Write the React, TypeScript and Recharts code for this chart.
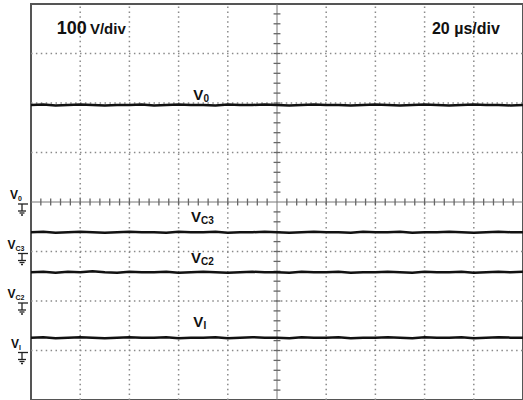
import {
  Line,
  LineChart,
  ReferenceArea,
  ReferenceDot,
  ReferenceLine,
  XAxis,
  YAxis,
} from "recharts"

// time base: 20 µs/div, 10 divisions
const timeUs = [
  0, 5, 10, 15, 20, 25, 30, 35, 40, 45, 50, 55, 60, 65, 70, 75, 80, 85, 90, 95,
  100, 105, 110, 115, 120, 125, 130, 135, 140, 145, 150, 155, 160, 165, 170, 175,
  180, 185, 190, 195, 200,
]

// trace levels in screen divisions (100 V/div)
const v0 = [
  1.96, 1.97, 1.95, 1.96, 1.97, 1.96, 1.95, 1.96, 1.96, 1.97, 1.95, 1.96, 1.97,
  1.96, 1.96, 1.95, 1.97, 1.96, 1.96, 1.97, 1.96, 1.95, 1.96, 1.97, 1.96, 1.96,
  1.95, 1.96, 1.97, 1.96, 1.95, 1.96, 1.97, 1.96, 1.95, 1.96, 1.97, 1.96, 1.96,
  1.95, 1.96,
]
const vc3 = [
  -0.61, -0.6, -0.62, -0.61, -0.6, -0.61, -0.62, -0.61, -0.6, -0.61, -0.61,
  -0.62, -0.6, -0.61, -0.61, -0.6, -0.62, -0.61, -0.61, -0.6, -0.61, -0.62,
  -0.61, -0.6, -0.61, -0.61, -0.62, -0.6, -0.61, -0.61, -0.6, -0.62, -0.61,
  -0.61, -0.6, -0.61, -0.62, -0.61, -0.6, -0.61, -0.61,
]
const vc2 = [
  -1.42, -1.41, -1.43, -1.41, -1.42, -1.4, -1.42, -1.43, -1.41, -1.42, -1.42,
  -1.41, -1.43, -1.42, -1.41, -1.42, -1.43, -1.42, -1.41, -1.42, -1.42, -1.43,
  -1.41, -1.42, -1.42, -1.41, -1.43, -1.42, -1.42, -1.41, -1.42, -1.43, -1.41,
  -1.42, -1.42, -1.41, -1.43, -1.42, -1.41, -1.42, -1.41,
]
const vi = [
  -2.74, -2.73, -2.75, -2.74, -2.73, -2.74, -2.75, -2.74, -2.73, -2.74, -2.74,
  -2.73, -2.75, -2.74, -2.74, -2.73, -2.75, -2.74, -2.73, -2.74, -2.74, -2.75,
  -2.73, -2.74, -2.74, -2.73, -2.75, -2.74, -2.74, -2.73, -2.74, -2.75, -2.73,
  -2.74, -2.74, -2.73, -2.75, -2.74, -2.73, -2.74, -2.74,
]

// channel ground markers (divisions) and their labels
const groundLevels = [0, -1, -2, -3]
const groundNames = ["0", "C3", "C2", "I"]

// trace labels: [time µs, level div, subscript]
const traceLabels: [number, number, string][] = [
  [66, 2.06, "0"],
  [65, -0.4, "C3"],
  [65, -1.23, "C2"],
  [66, -2.53, "I"],
]

const gridX = [20, 40, 60, 80, 120, 140, 160, 180]
const gridY = [-3, -2, -1, 1, 2, 3]
const minorX: number[] = []
for (let t = 4; t < 200; t += 4) if (t !== 100) minorX.push(t)
const minorY: number[] = []
for (let k = -19; k < 20; k++) if (k !== 0) minorY.push(k / 5)

const data = timeUs.map((t, i) => ({ t, v0: v0[i], vc3: vc3[i], vc2: vc2[i], vi: vi[i] }))

const font = "'Liberation Sans', Arial, sans-serif"
const dotted = { stroke: "#8a8a8a", strokeWidth: 1.5, strokeDasharray: "1.5 3.4" }

function GroundMark({ cx, cy, name }: { cx?: number; cy?: number; name: string }) {
  if (cx == null || cy == null) return null
  const x = cx
  const y = cy
  return (
    <g stroke="#222" strokeWidth={1.3} fill="none">
      <text
        x={x - 15}
        y={y - 3}
        fontFamily={font}
        fontWeight="bold"
        fontSize={12}
        fill="#111"
        stroke="none"
        textAnchor="middle"
      >
        V
        <tspan fontSize={7} dy={2}>
          {name}
        </tspan>
      </text>
      <line x1={x - 13} y1={y + 2} x2={x - 3} y2={y + 2} />
      <line x1={x - 9} y1={y + 2} x2={x - 9} y2={y + 9} />
      <line x1={x - 13} y1={y + 9} x2={x - 5} y2={y + 9} />
      <line x1={x - 11.5} y1={y + 11} x2={x - 6.5} y2={y + 11} />
      <line x1={x - 10} y1={y + 13} x2={x - 8} y2={y + 13} />
    </g>
  )
}

function TraceLabel({ cx, cy, sub }: { cx?: number; cy?: number; sub: string }) {
  if (cx == null || cy == null) return null
  return (
    <text x={cx} y={cy} fontFamily={font} fontWeight="bold" fontSize={15} fill="#111">
      V
      <tspan fontSize={10} dy={2}>
        {sub}
      </tspan>
    </text>
  )
}

export default function App() {
  return (
    <div style={{ position: "fixed", left: 0, top: 0, background: "#fff" }}>
      <LineChart
        width={523}
        height={401}
        data={data}
        margin={{ top: 4, right: 0, bottom: 1, left: 31 }}
      >
        <XAxis dataKey="t" type="number" domain={[0, 200]} hide />
        <YAxis type="number" domain={[-4, 4]} hide />
        {gridX.map((x) => (
          <ReferenceLine key={"gx" + x} x={x} {...dotted} />
        ))}
        {gridY.map((y) => (
          <ReferenceLine key={"gy" + y} y={y} {...dotted} />
        ))}
        <ReferenceLine x={100} stroke="#777" strokeWidth={1} />
        <ReferenceLine y={0} stroke="#777" strokeWidth={1} />
        {minorX.map((x) => (
          <ReferenceLine
            key={"mx" + x}
            segment={[
              { x, y: -0.07 },
              { x, y: 0.07 },
            ]}
            stroke="#666"
            strokeWidth={1.3}
          />
        ))}
        {minorY.map((y) => (
          <ReferenceLine
            key={"my" + y}
            segment={[
              { x: 98.6, y },
              { x: 101.4, y },
            ]}
            stroke="#666"
            strokeWidth={1.3}
          />
        ))}
        <ReferenceArea
          x1={0}
          x2={200}
          y1={-4}
          y2={4}
          fill="none"
          stroke="#555"
          strokeWidth={2}
          ifOverflow="visible"
        />
        <Line dataKey="v0" stroke="#111" strokeWidth={2.5} dot={false} isAnimationActive={false} />
        <Line dataKey="vc3" stroke="#111" strokeWidth={2.5} dot={false} isAnimationActive={false} />
        <Line dataKey="vc2" stroke="#111" strokeWidth={2.5} dot={false} isAnimationActive={false} />
        <Line dataKey="vi" stroke="#111" strokeWidth={2.5} dot={false} isAnimationActive={false} />
        {groundLevels.map((g, i) => (
          <ReferenceDot
            key={"gnd" + i}
            x={0}
            y={g}
            r={0}
            ifOverflow="visible"
            shape={(p: any) => <GroundMark cx={p.cx} cy={p.cy} name={groundNames[i]} />}
          />
        ))}
        {traceLabels.map(([t, y, s]) => (
          <ReferenceDot
            key={"tl" + s}
            x={t}
            y={y}
            r={0}
            ifOverflow="visible"
            shape={(p: any) => <TraceLabel cx={p.cx} cy={p.cy} sub={s} />}
          />
        ))}
        <ReferenceDot
          x={10.5}
          y={3.4}
          r={0}
          ifOverflow="visible"
          shape={(p: any) => (
            <text x={p.cx} y={p.cy} fontFamily={font} fontWeight="bold" fill="#111">
              <tspan fontSize={18}>100</tspan>
              <tspan fontSize={15} dx={3}>V/div</tspan>
            </text>
          )}
        />
        <ReferenceDot
          x={163}
          y={3.4}
          r={0}
          ifOverflow="visible"
          shape={(p: any) => (
            <text x={p.cx} y={p.cy} fontFamily={font} fontWeight="bold" fontSize={16} fill="#111">
              20 µs/div
            </text>
          )}
        />
      </LineChart>
    </div>
  )
}
